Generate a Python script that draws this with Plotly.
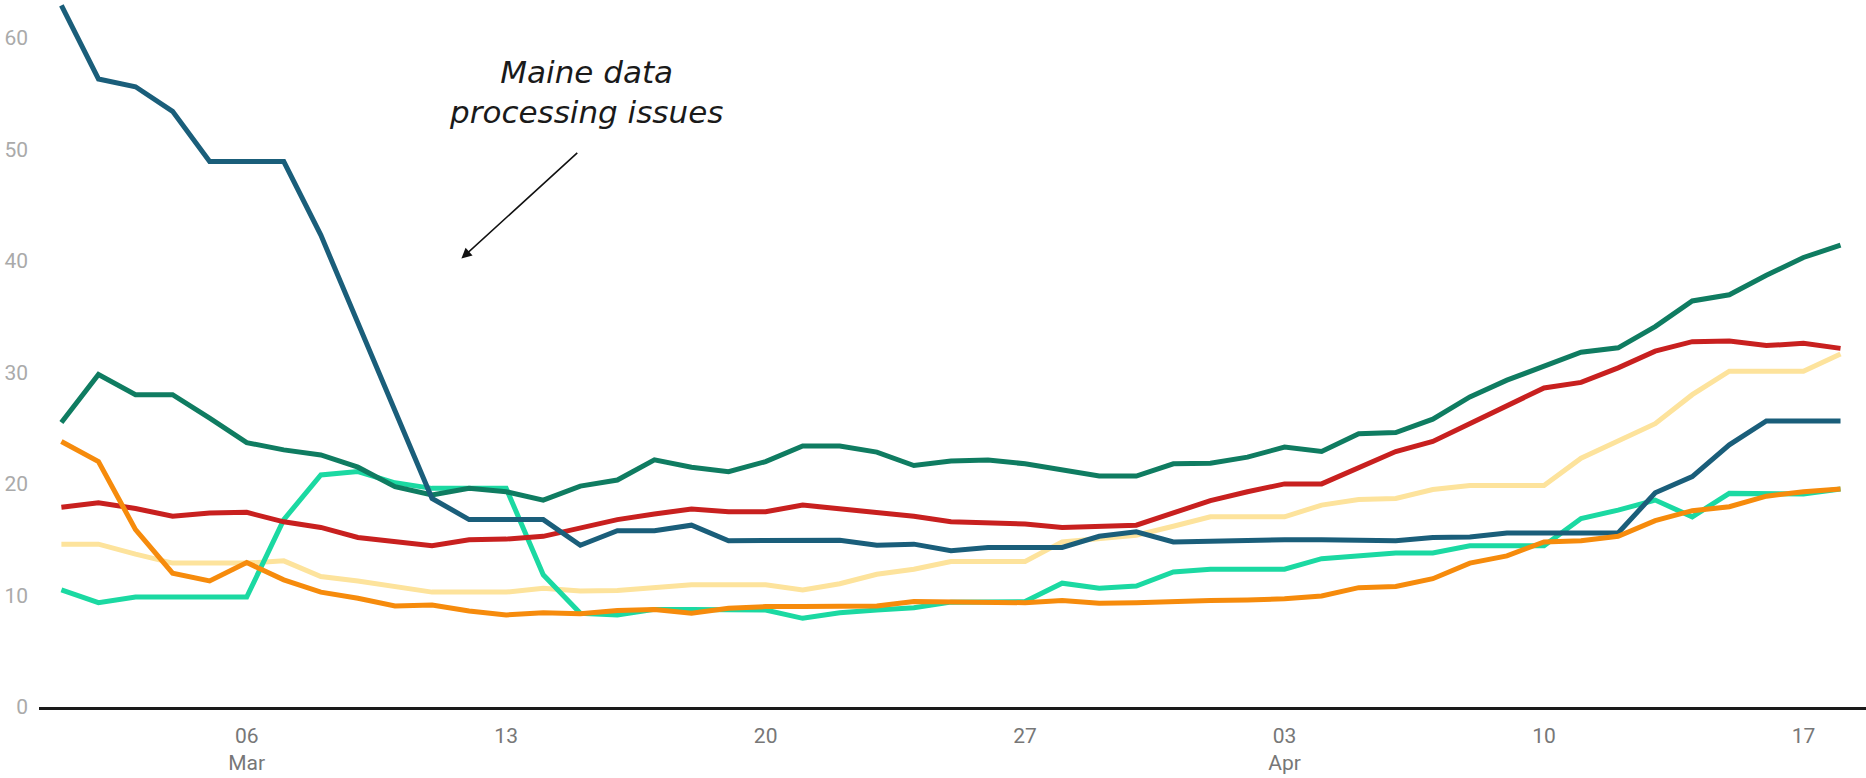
import pandas as pd
import plotly.graph_objects as go

dates = pd.date_range("2021-03-01", "2021-04-18", freq="D")

maine = [62.9, 56.3, 55.6, 53.4, 48.9, 48.9, 48.9, 42.3, 34.4, 26.5,
         18.7, 16.8, 16.8, 16.8, 14.5, 15.8, 15.8, 16.3, 14.9, 14.9,
         14.9, 14.95, 14.5, 14.6, 14.0, 14.3, 14.3, 14.3, 15.3, 15.7,
         14.8, 14.9, 15.0, 15.0, 15.0, 15.0, 14.9, 15.2, 15.25, 15.6,
         15.6, 15.6, 15.6, 19.2, 20.65, 23.5, 25.65, 25.65, 25.65]

series_green = [25.5, 29.8, 28.0, 28.0, 25.9, 23.7, 23.05, 22.6, 21.5, 19.75,
                19.0, 19.6, 19.3, 18.55, 19.8, 20.35, 22.15, 21.5, 21.1, 22.0,
                23.4, 23.4, 22.85, 21.65, 22.05, 22.15, 21.8, 21.2, 20.7, 20.7,
                21.8, 21.85, 22.4, 23.3, 22.9, 24.5, 24.6, 25.8, 27.8, 29.3,
                30.5, 31.8, 32.2, 34.1, 36.4, 36.95, 38.7, 40.3, 41.4]

series_red = [17.9, 18.3, 17.8, 17.1, 17.4, 17.45, 16.6, 16.1, 15.2, 14.8,
              14.45, 15.0, 15.05, 15.3, 16.0, 16.8, 17.3, 17.75, 17.5, 17.5,
              18.1, 17.8, 17.4, 17.1, 16.6, 16.5, 16.4, 16.1, 16.2, 16.3,
              17.4, 18.5, 19.3, 20.0, 20.0, 21.4, 22.9, 23.8, 25.4, 27.1,
              28.6, 29.1, 30.4, 31.9, 32.75, 32.8, 32.4, 32.6, 32.15]

series_orange = [23.8, 22.0, 15.9, 12.0, 11.3, 12.95, 11.4, 10.3, 9.75, 9.05,
                 9.15, 8.6, 8.25, 8.45, 8.35, 8.65, 8.75, 8.4, 8.85, 9.0,
                 9.0, 9.0, 9.05, 9.45, 9.45, 9.45, 9.35, 9.55, 9.3, 9.35,
                 9.5, 9.55, 9.6, 9.7, 9.95, 10.7, 10.8, 11.5, 12.9, 13.55,
                 14.8, 14.9, 15.3, 16.7, 17.6, 17.95, 18.9, 19.3, 19.55]

series_teal = [10.5, 9.35, 9.85, 9.85, 9.85, 9.85, 16.8, 20.8, 21.1, 20.1,
               19.6, 19.6, 19.6, 11.85, 8.4, 8.25, 8.75, 8.75, 8.7, 8.7,
               7.95, 8.45, 8.7, 8.9, 9.4, 9.45, 9.45, 11.1, 10.65, 10.85,
               12.1, 12.35, 12.35, 12.35, 13.3, 13.6, 13.8, 13.8, 14.45, 14.45,
               14.45, 16.9, 17.65, 18.55, 17.05, 19.15, 19.15, 19.1, 19.55]

series_yellow = [14.6, 14.6, 13.7, 12.9, 12.9, 12.9, 13.1, 11.7, 11.3, 10.75,
                 10.3, 10.3, 10.3, 10.65, 10.4, 10.45, 10.7, 10.95, 10.95, 10.95,
                 10.5, 11.05, 11.9, 12.35, 13.05, 13.05, 13.05, 14.8, 15.05, 15.4,
                 16.2, 17.05, 17.05, 17.05, 18.1, 18.6, 18.7, 19.5, 19.85, 19.85,
                 19.85, 22.3, 23.9, 25.4, 28.0, 30.1, 30.1, 30.1, 31.65]

tick_vals = ["2021-03-06", "2021-03-13", "2021-03-20", "2021-03-27",
             "2021-04-03", "2021-04-10", "2021-04-17"]
tick_text = ["06<br>Mar", "13", "20", "27", "03<br>Apr", "10", "17"]
y_ticks = [0, 10, 20, 30, 40, 50, 60]

traces = [
    ("Series 6", series_yellow, "#fde39c"),
    ("Series 5", series_teal, "#1bd9a2"),
    ("Series 2", series_green, "#0f7c61"),
    ("Series 3", series_red, "#c8201f"),
    ("Maine", maine, "#1a5e7a"),
    ("Series 4", series_orange, "#f68b0c"),
]

fig = go.Figure()
for name, vals, color in traces:
    fig.add_trace(go.Scatter(x=dates, y=vals, mode="lines", name=name,
                             line=dict(color=color, width=5),
                             hoverinfo="skip"))

fig.update_layout(
    width=1866, height=778,
    margin=dict(l=39, r=0, t=0, b=71),
    paper_bgcolor="white", plot_bgcolor="white",
    showlegend=False,
    font=dict(family="Roboto", size=21, color="#777777"),
    xaxis=dict(
        range=["2021-02-28 09:30", "2021-04-18 16:30"],
        tickvals=tick_vals, ticktext=tick_text,
        showgrid=False, zeroline=False,
        showline=True, linecolor="#1a1a1a", linewidth=2.5,
        ticks="", ticklabelstandoff=8,
        tickfont=dict(family="Roboto", size=21, color="#777777"),
    ),
    yaxis=dict(
        range=[0, 63.38],
        tickvals=y_ticks,
        showgrid=False, zeroline=False, showline=False,
        ticks="", ticklabelstandoff=10,
        tickfont=dict(family="Roboto", size=21, color="#aaaaaa"),
    ),
)

fig.add_annotation(
    x="2021-03-11 19:00", y=40.2, xref="x", yref="y",
    ax="2021-03-14 23:00", ay=49.8, axref="x", ayref="y",
    text="", showarrow=True, arrowhead=2, arrowsize=1.3,
    arrowwidth=1.6, arrowcolor="#111111",
)
fig.add_annotation(
    x="2021-03-15 04:00", y=55.1, xref="x", yref="y",
    text="<i>Maine data<br>processing issues</i>", showarrow=False,
    font=dict(family="DejaVu Sans", size=31, color="#1a1a1a"),
    align="center",
)

fig.write_html("out.html",
               config={"displayModeBar": False},
               post_script="document.body.style.margin='0';document.body.style.overflow='hidden';")
